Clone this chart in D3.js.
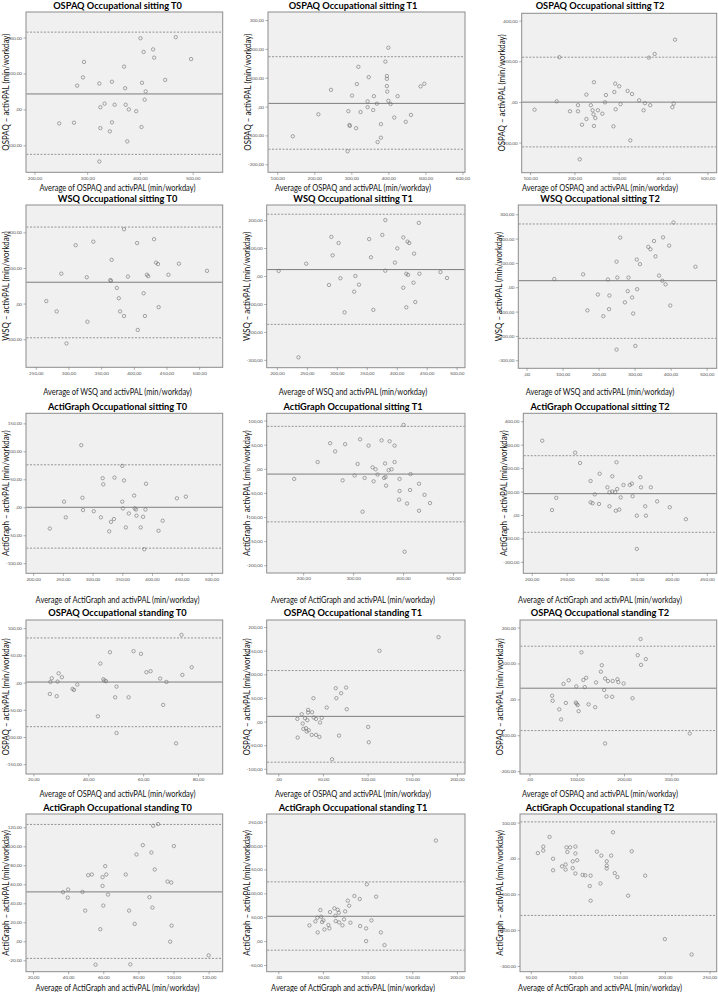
<!DOCTYPE html>
<html><head><meta charset="utf-8">
<script src="https://cdn.jsdelivr.net/npm/d3@7"></script>
<style>body{margin:0;background:#fff}svg{display:block}</style>
</head><body>
<svg id="c" width="718" height="992"></svg>
<script>
// ---------------- DATA ----------------
const titles = [
  "OSPAQ Occupational sitting T0","OSPAQ Occupational sitting T1","OSPAQ Occupational sitting T2",
  "WSQ Occupational sitting T0","WSQ Occupational sitting T1","WSQ Occupational sitting T2",
  "ActiGraph Occupational sitting T0","ActiGraph Occupational sitting T1","ActiGraph Occupational sitting T2",
  "OSPAQ Occupational standing T0","OSPAQ Occupational standing T1","OSPAQ Occupational standing T2",
  "ActiGraph Occupational standing T0","ActiGraph Occupational standing T1","ActiGraph Occupational standing T2"];
const instruments = ["OSPAQ","WSQ","ActiGraph","OSPAQ","ActiGraph"];
const meanDiff = [43,11,-1, 60,23,27, 0,-11,91, 1,11,31, 52,52,null];
const upperLoA = [215,173,220, 215,221,260, 76,88,253, 82,108,148, 123,124,102];
const lowerLoA = [-125,-148,-221, -96,-173,-210, -73,-110,-74, -81,-86,-87, -18,-19,-159];
const xDomains = [[184,557],[75,607],[81,521],[235,536],[183,514],[-23,528],[188,519],[127,524],[188,464],
  [17.3,89],[-13,209],[-20,396],[16,128],[-13,209],[38,258]];
const yDomains = [[-175,271],[-228,328],[-348,436],[-179,277],[-328,254],[-333,338],[-118,168],[-216,115],[-249,434],
  [-168,115],[-111,215],[-208,221],[-32,134],[-64,266],[-316,124]];
const xTicks = [[200,300,400,500],[100,200,300,400,500,600],[100,200,300,400,500],
  [250,300,350,400,450,500],[200,250,300,350,400,450,500],[0,100,200,300,400,500],
  [200,250,300,350,400,450,500],[200,300,400,500],[200,250,300,350,400,450],
  [20,40,60,80],[0,50,100,150,200],[0,100,200,300],
  [20,40,60,80,100,120],[0,50,100,150,200],[50,100,150,200,250]];
const yTicks = [[-100,0,100,200],[-200,-100,0,100,200,300],[-200,0,200,400],
  [-100,0,100,200],[-300,-200,-100,0,100,200],[-300,-200,-100,0,100,200,300],
  [-100,-50,0,50,100,150],[-200,-150,-100,-50,0,50,100],[-200,-100,0,100,200,300,400],
  [-150,-100,-50,0,50,100],[-100,-50,0,50,100,150,200],[-200,-100,0,100,200],
  [-20,0,20,40,60,80,100,120],[-50,0,50,100,150,200,250],[-300,-200,-100,0,100]];

const ospaqSitT0 = [[247,-39],[275,-37],[281,66],[292,89],[294,132],[323,72],[325,6],[325,-52],[333,16],[343,-61],[347,77],[347,-36],[352,13],[370,119],[372,59],[373,13],[379,0],[376,-89],[393,-5],[401,198],[403,-49],[404,74],[407,160],[409,27],[411,50],[425,167],[427,144],[448,82],[468,201],[497,140],[323,-145]];
const ospaqSitT1 = [[142,-103],[211,-27],[245,58],[292,-16],[295,-64],[296,-67],[302,38],[313,-75],[315,78],[290,-155],[319,138],[325,-19],[344,18],[344,-2],[347,102],[359,-12],[361,36],[369,10],[380,-61],[380,-108],[371,-123],[392,156],[396,106],[396,96],[396,71],[397,52],[400,204],[400,20],[406,9],[416,-38],[425,36],[447,-53],[461,-29],[487,70],[497,79]];
const ospaqSitT2 = [[110,-38],[160,3],[166,220],[190,-46],[208,-16],[208,-46],[217,-112],[212,-282],[227,36],[227,-84],[237,-16],[241,-41],[243,-61],[247,-79],[244,-118],[244,97],[253,-41],[263,-58],[269,-2],[271,34],[288,-120],[290,49],[292,90],[293,-36],[301,77],[304,-11],[320,54],[326,-189],[330,39],[346,8],[356,-41],[359,-6],[368,218],[371,-16],[381,236],[421,-26],[424,-8],[427,306]];
const wsqSitT0 = [[266,7],[282,-22],[289,84],[297,-112],[311,164],[328,74],[329,-51],[338,174],[366,123],[364,66],[365,64],[374,44],[377,15],[379,-22],[385,209],[385,-35],[391,76],[405,170],[406,-74],[415,29],[417,-35],[420,81],[422,77],[431,181],[434,115],[437,111],[438,-10],[453,81],[469,112],[512,92]];
const wsqSitT1 = [[203,18],[249,44],[287,-32],[291,140],[293,74],[303,118],[306,-8],[313,-130],[329,-56],[331,0],[337,-31],[354,132],[357,67],[361,-121],[376,147],[381,19],[381,200],[397,48],[401,99],[411,-42],[411,138],[416,8],[416,-112],[418,123],[419,4],[421,118],[428,-24],[429,80],[431,-93],[437,190],[438,8],[473,14],[484,-7],[236,-291]];
const wsqSitT2 = [[77,34],[157,53],[198,-30],[169,-95],[213,-119],[226,32],[230,-34],[229,-90],[250,105],[252,40],[260,204],[273,-62],[281,-16],[283,40],[293,-42],[296,-108],[302,-241],[306,114],[307,-8],[315,95],[250,-256],[338,166],[344,156],[354,190],[358,127],[368,48],[377,27],[379,205],[386,12],[396,171],[399,-75],[408,266],[469,84]];
const agSitT0 = [[228,-38],[252,10],[255,-18],[281,111],[283,17],[284,-5],[302,-7],[314,-18],[317,52],[318,41],[328,-43],[331,-26],[336,-21],[337,53],[350,74],[350,10],[351,-2],[353,48],[356,-36],[361,-11],[370,21],[371,-2],[373,-4],[374,-15],[381,-36],[385,-17],[387,-75],[389,-4],[390,42],[411,-42],[418,-24],[442,16],[457,19]];
const agSitT1 = [[182,-21],[229,14],[254,53],[264,36],[279,-24],[284,51],[309,10],[303,-14],[314,61],[323,-19],[319,-89],[331,48],[339,3],[341,-26],[345,-1],[349,-12],[357,59],[362,-19],[364,11],[366,-35],[365,-17],[371,-3],[373,57],[377,-1],[383,14],[383,48],[393,-21],[393,-46],[392,-64],[401,91],[403,-172],[408,-72],[415,-11],[414,-44],[432,-31],[432,-87],[443,-54],[454,-71]];
const agSitT2 = [[215,317],[229,21],[235,73],[262,266],[269,222],[284,145],[284,54],[287,50],[290,88],[296,47],[297,176],[308,118],[311,37],[311,97],[315,165],[315,100],[319,97],[320,18],[321,225],[322,111],[325,23],[327,75],[331,128],[340,128],[343,134],[344,80],[350,-3],[350,-145],[355,161],[356,118],[362,37],[363,-3],[370,118],[379,58],[397,33],[420,-18]];
const ospaqStT0 = [[26,-20.9],[26.2,1.2],[26.7,8],[28.5,-25],[28.8,1.8],[29.2,17],[30.4,9.8],[34.3,-11.7],[34.8,-13.5],[36,-3.7],[43.5,-62],[44.4,35],[45.5,6.1],[45.9,3.7],[46.5,2.5],[47.9,55.8],[49.8,-27],[50.3,-7.4],[50.3,-92.6],[54.7,-27],[56.5,57.7],[59.2,52.8],[61.2,19],[62.7,20.9],[66.2,7.4],[67.3,-41],[68.5,1.2],[72,-111.7],[74,87.7],[74.3,14.1],[77.7,28.2]];
const ospaqStT1 = [[21.7,-33.9],[21.3,5.6],[26.2,15.5],[27.3,-4.2],[28,-15.5],[29.9,7.1],[31,-14.1],[31.8,-21.2],[32.5,2.8],[33.3,19.1],[33.3,24.7],[34,-18.4],[37.4,-28.2],[37.8,19.8],[39.3,49.4],[39.6,8.5],[42.2,5.6],[42.2,-28.2],[46,-32.5],[46.7,-2.1],[48.6,7.8],[54.2,29.7],[60.2,-79.8],[64.3,70.6],[65,49.4],[68,-29.7],[70.3,60],[75.9,72],[76.6,26.1],[100.6,-11.3],[101.3,-43.8],[113.3,149.7],[179.4,178.7]];
const ospaqStT2 = [[48,10],[49,-4],[63,-28],[67,-56],[72,43],[77,-10],[83,53],[98,-9],[99,36],[100,-12],[102,-16],[104,-33],[110,131],[114,54],[117,34],[120,60],[125,-14],[139,-22],[141,47],[151,77],[153,95],[158,26],[160,58],[163,8],[160,-123],[166,51],[175,7],[176,51],[186,56],[188,48],[199,44],[218,3],[229,123],[235,168],[236,96],[246,112],[339,-95]];
const agStT0 = [[37.1,51.7],[39.8,46],[40,54.5],[48.2,52],[49.7,32.3],[51.4,69.6],[53.5,70.3],[55.6,-24.6],[58.3,12.7],[59.6,67.5],[59.6,58.3],[60,37.6],[61.1,79.1],[61.7,70.3],[62.7,49.2],[72.8,70.3],[74.7,32.3],[75.4,-24.3],[77.9,18.3],[78.9,91.4],[82.5,101.2],[86.3,46.4],[87.4,93.5],[88,35.5],[88.4,121.6],[89.3,75.6],[91.2,123.4],[96.6,62.9],[98.1,-0.4],[98.7,61.9],[98.9,16.5],[100.2,100.2],[120,-14.8]];
const agStT1 = [[34.8,32.9],[41.5,41.3],[43.7,49],[44.1,18.2],[47.1,65],[47.9,51],[49,39.9],[50.5,43.4],[51.6,24.5],[56.1,33.6],[57.2,26.6],[57.9,60.8],[62.8,68.5],[63.9,53.1],[64.3,42],[66.5,65.7],[67.7,59.4],[68,39.2],[71.8,32.9],[73.6,45.5],[74.8,62.2],[77.8,84.6],[79.3,74.1],[80.7,38.5],[85.2,94.4],[91.2,88.1],[91.6,31.5],[98.3,26.6],[98.3,0],[99.1,118.9],[104.3,43.4],[109.5,93],[114.8,18.2],[118.9,-8.4],[176.4,210.5]];
const agStT2 = [[58,15],[64,33],[64,22],[71,60],[75,-1],[75,-33],[85,-22],[89,-17],[89,-31],[90,31],[91,18],[94,31],[97,-8],[97,-27],[100,33],[100,14],[100,-42],[102,-5],[108,-46],[111,-47],[116,-77],[117,-48],[117,-118],[124,19],[128,-70],[129,8],[135,-8],[135,-20],[135,-28],[140,8],[144,-41],[147,-52],[142,73],[159,-104],[163,20],[178,-48],[200,-225],[230,-268]];
const panelPoints = [ospaqSitT0,ospaqSitT1,ospaqSitT2,wsqSitT0,wsqSitT1,wsqSitT2,agSitT0,agSitT1,agSitT2,
  ospaqStT0,ospaqStT1,ospaqStT2,agStT0,agStT1,agStT2];

// ---------------- LAYOUT ----------------
const boxes = [
  [26,12,222.7,172.3],[268,12,465,172.3],[521.7,13.3,716.7,172.7],
  [26,205,222.7,367.3],[266.7,205,465,367.7],[518.3,205,716.7,368.3],
  [26,413.3,222.7,573.3],[266.7,413.3,465,573],[523.3,413.3,716.7,573.3],
  [26,620,222.7,774],[266.7,620,465,774],[520,620,716.7,774],
  [26,814,222.7,971.7],[266.7,814,465,971.7],[520,814,716.7,971.7]];
const colCenter = [117.5,353,600];
const titleBase = [9,202,409.5,615.5,810.5];
const xlabBase = [190.5,394.5,602.5,796.5,991];
const FONT = "Lato, 'Open Sans', sans-serif";

const svg = d3.select("#c");
function measure(txt,size,weight){
  const t = svg.append("text").attr("font-family",FONT).attr("font-size",size).attr("font-weight",weight).text(txt);
  const w = t.node().getComputedTextLength(); t.remove(); return w;
}
const titleSize = 10, labSize = 9.2, ylabSize = 9.2;
const sxTitle = 129 / measure("OSPAQ Occupational sitting T0", titleSize, "bold");
const sxLab = 156 / measure("Average of OSPAQ and activPAL (min/workday)", labSize, "normal");
const sxYlab = 117 / measure("OSPAQ \u2013 activPAL (min/workday)", ylabSize, "normal");

function fmt(v){
  let s = d3.format(".2f")(Math.abs(v)).replace(".", ",");
  if (Math.abs(v) < 1) s = s.replace(/^0/, "");
  return (v < 0 ? "-" : "") + s;
}

panelPoints.forEach((pts, i) => {
  const row = Math.floor(i/3), col = i % 3;
  const [l,t,r,b] = boxes[i];
  const x = d3.scaleLinear().domain(xDomains[i]).range([l,r]);
  const y = d3.scaleLinear().domain(yDomains[i]).range([b,t]);
  const g = svg.append("g");
  g.append("rect").attr("x",l).attr("y",t).attr("width",r-l).attr("height",b-t)
    .attr("fill","#f0f0f0").attr("stroke","#8c8c8c").attr("stroke-width",1);

  const yAx = g.append("g").attr("transform",`translate(${l},0)`)
    .call(d3.axisLeft(y).tickValues(yTicks[i]).tickFormat(fmt).tickSize(2.5).tickPadding(1.5));
  const xAx = g.append("g").attr("transform",`translate(0,${b})`)
    .call(d3.axisBottom(x).tickValues(xTicks[i]).tickFormat(fmt).tickSize(2.5).tickPadding(1.5));
  [yAx,xAx].forEach(a => {
    a.select(".domain").remove();
    a.selectAll("line").attr("stroke","#777").attr("stroke-width",0.6);
    a.selectAll("text").attr("font-family",FONT).attr("font-size",4.6).attr("fill","#555");
  });

  const ll = (v, dash, c) => g.append("line").attr("x1",l+0.5).attr("x2",r-0.5)
    .attr("y1",y(v)).attr("y2",y(v)).attr("stroke",c).attr("stroke-width",0.9)
    .attr("stroke-dasharray",dash);
  ll(upperLoA[i],"2,1.5","#8a8a8a");
  ll(lowerLoA[i],"2,1.5","#8a8a8a");
  if (meanDiff[i] !== null) ll(meanDiff[i],null,"#707070");

  g.selectAll("circle.pt").data(pts).join("circle").attr("class","pt")
    .attr("cx",d=>x(d[0])).attr("cy",d=>y(d[1])).attr("r",1.7)
    .attr("fill","none").attr("stroke","#6e6e6e").attr("stroke-width",0.6);

  const cx = colCenter[col];
  svg.append("text").attr("font-family",FONT).attr("font-weight","bold").attr("font-size",titleSize)
    .attr("text-anchor","middle").attr("fill","#000")
    .attr("transform",`translate(${cx},${titleBase[row]}) scale(${sxTitle},1)`).text(titles[i]);
  const inst = instruments[row];
  svg.append("text").attr("font-family",FONT).attr("font-size",labSize)
    .attr("text-anchor","middle").attr("fill","#111")
    .attr("transform",`translate(${cx},${xlabBase[row]}) scale(${sxLab},1)`)
    .text(`Average of ${inst} and activPAL (min/workday)`);
  svg.append("text").attr("font-family",FONT).attr("font-size",ylabSize)
    .attr("text-anchor","middle").attr("fill","#111").attr("dominant-baseline","central")
    .attr("transform",`translate(${l-20},${(t+b)/2}) rotate(-90) scale(${sxYlab},1)`)
    .text(`${inst} \u2013 activPAL (min/workday)`);
});
</script>
</body></html>
